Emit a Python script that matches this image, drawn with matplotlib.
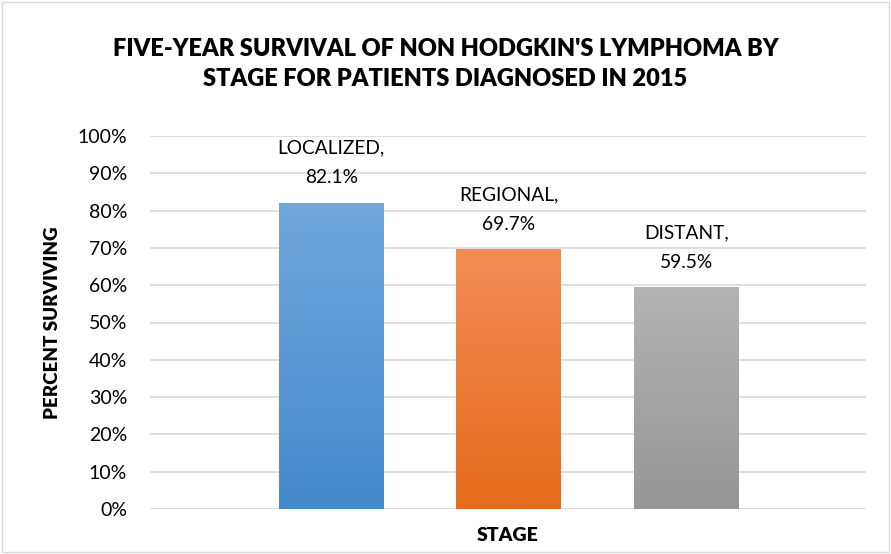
import numpy as np
import matplotlib.pyplot as plt
from matplotlib.colors import LinearSegmentedColormap
from matplotlib.patches import Rectangle

# survival by stage (percent)
stages = ["LOCALIZED", "REGIONAL", "DISTANT"]
survival = [82.1, 69.7, 59.5]
yticks = [0, 10, 20, 30, 40, 50, 60, 70, 80, 90, 100]

# gradient colours per bar: (top, bottom)
grads = [("#70a8dd", "#4489ca"),
         ("#f28d55", "#e56b1c"),
         ("#b3b3b3", "#969696")]

plt.rcParams['font.family'] = ['Lato', 'DejaVu Sans']

fig = plt.figure(figsize=(8.91, 5.54), dpi=100)
ax = fig.add_axes([150/891, 1 - 509/554, 716/891, 373/554])

x = np.arange(len(stages))
width = 0.59
bars = ax.bar(x, survival, width=width, color='none', edgecolor='none', zorder=3)

# paint each bar with a vertical gradient, clipped to the bar
for b, (top, bot) in zip(bars, grads):
    cmap = LinearSegmentedColormap.from_list("g", [bot, top])
    grad = np.linspace(0, 1, 256).reshape(-1, 1)
    bx, by = b.get_x(), b.get_y()
    bw, bh = b.get_width(), b.get_height()
    im = ax.imshow(grad, cmap=cmap, origin='lower', aspect='auto',
                   extent=[bx, bx + bw, by, by + bh], zorder=3)
    im.set_clip_path(b)

for xi, name, val in zip(x, stages, survival):
    ax.text(xi, val + 4.4, f"{name},\n{val}%", ha='center', va='bottom',
            fontsize=13.8, color='#000000', linespacing=1.9, zorder=4)

ax.set_xlim(-1.02, 3.01)
ax.set_ylim(0, 100)
ax.set_yticks(yticks)
ax.set_yticklabels([f"{t}%" for t in yticks], fontsize=14)
ax.set_xticks([])
ax.yaxis.grid(True, color='#d9d9d9', linewidth=1.2, zorder=0)
ax.set_axisbelow(True)
for s in ax.spines.values():
    s.set_visible(False)
ax.tick_params(axis='y', length=0, pad=16.5)

ax.set_xlabel("STAGE", fontsize=14, fontweight='heavy', labelpad=13)
ax.set_ylabel("PERCENT SURVIVING", fontsize=13.5, fontweight='heavy', labelpad=12)

fig.text(0.5, 1 - 64/554, "FIVE-YEAR SURVIVAL OF NON HODGKIN'S LYMPHOMA BY\nSTAGE FOR PATIENTS DIAGNOSED IN 2015",
         ha='center', va='center', fontsize=17, fontweight='heavy', linespacing=1.45)

# thin chart border
fig.patches.append(Rectangle((2/891, 2/554), 887/891, 550/554, transform=fig.transFigure,
                             fill=False, edgecolor='#d9d9d9', linewidth=1))

fig.savefig("out.png", dpi=100)
